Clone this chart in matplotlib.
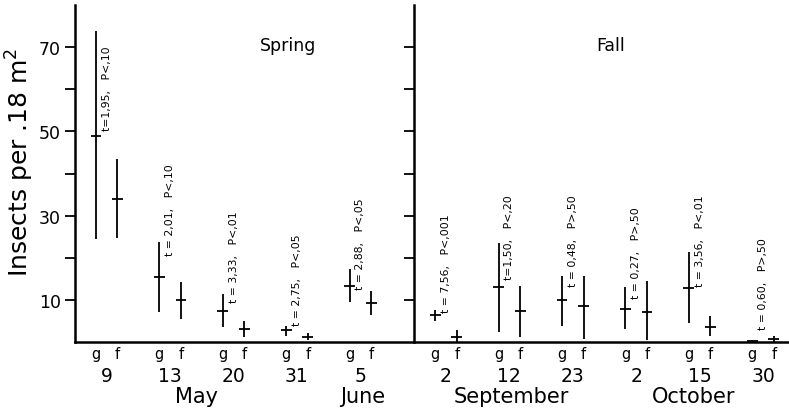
import numpy as np
import matplotlib
matplotlib.use("Agg")
import matplotlib.pyplot as plt
from matplotlib.transforms import blended_transform_factory

# Sampling dates
spring_days = ["9", "13", "20", "31", "5"]
fall_days = ["2", "12", "23", "2", "15", "30"]
months = ["May", "June", "September", "October"]

# Insects per .18 m^2: mean and range, g and f plots
g_mean = [49.0, 15.6, 7.5, 2.8, 13.4, 6.5, 13.0, 10.0, 7.9, 12.9, 0.4]
g_lo = [24.5, 7.2, 3.7, 1.6, 9.6, 5.1, 2.5, 3.9, 3.2, 4.6, 0.15]
g_hi = [73.8, 23.9, 11.5, 3.9, 17.4, 7.7, 23.6, 15.8, 13.0, 21.4, 0.65]
f_mean = [34.0, 10.1, 3.1, 1.3, 9.3, 1.3, 7.5, 8.5, 7.3, 3.7, 0.8]
f_lo = [24.8, 5.5, 1.2, 0.5, 6.5, 0.1, 1.2, 0.9, 0.6, 1.4, 0.0]
f_hi = [43.5, 14.3, 5.1, 2.2, 12.2, 2.8, 13.4, 15.8, 14.6, 6.3, 1.6]

# t-test results for each date
t_vals = ["t=1,95,", "t = 2,01,", "t = 3,33,", "t = 2,75,", "t = 2,88,",
          "t = 7,56,", "t=1,50,", "t = 0,48,", "t = 0,27,", "t = 3,56,", "t = 0,60,"]
p_vals = ["P<,10", "P<,10", "P<,01", "P<,05", "P<,05",
          "P<,001", "P<,20", "P>,50", "P>,50", "P<,01", "P>,50"]

# layout: where each rotated t/P label starts (data units)
label_base = [50.3, 20.7, 9.6, 4.0, 12.6, 7.1, 15.0, 13.4, 10.5, 13.4, 3.2]

W, H = 789, 410
fig = plt.figure(figsize=(W / 100, H / 100), dpi=100)
plt.rcParams["font.family"] = ["DejaVu Sans"]

ax_left, ax_bottom, ax_top = 75, 343.3, 6
ax = fig.add_axes([ax_left / W, 1 - ax_bottom / H, 1 - ax_left / W, (ax_bottom - ax_top) / H])

# group positions (g plot of each date); fall groups shifted right
fall_start = 5.35
xg = np.concatenate([np.arange(len(spring_days)), fall_start + np.arange(len(fall_days))])
xf = xg + 0.34
hw = 0.085

ax.set_xlim(-0.33, 10.93)
ax.set_ylim(0, 80)

for spine in ["top", "right"]:
    ax.spines[spine].set_visible(False)
ax.spines["left"].set_linewidth(1.8)
ax.spines["bottom"].set_linewidth(1.8)

ax.set_xticks([])
ax.set_yticks(np.arange(0, 80, 10))
ax.set_yticklabels(["" if v % 20 == 0 else str(v) for v in range(0, 80, 10)])
ax.tick_params(axis="y", direction="out", length=7, width=1.3, labelsize=12.5, pad=3)

# second (fall) vertical axis
ax2 = fig.add_axes([414 / W, 1 - ax_bottom / H, (W - 414) / W, (ax_bottom - ax_top) / H],
                   sharey=ax)
ax2.patch.set_visible(False)
for spine in ["top", "right", "bottom"]:
    ax2.spines[spine].set_visible(False)
ax2.spines["left"].set_linewidth(1.8)
ax2.set_xticks([])
ax2.tick_params(axis="y", direction="out", length=7, width=1.3, labelleft=False)
ax2.set_yticks(np.arange(10, 80, 10))

# mean +/- range crosses
lw = 1.3
ax.vlines(xg, g_lo, g_hi, color="black", lw=lw)
ax.hlines(g_mean, xg - hw, xg + hw, color="black", lw=lw)
ax.vlines(xf, f_lo, f_hi, color="black", lw=lw)
ax.hlines(f_mean, xf - hw, xf + hw, color="black", lw=lw)

# t / P annotations
for x, t, p, yb in zip((xg + xf) / 2, t_vals, p_vals, label_base):
    ax.text(x, yb, f"{t}   {p}", rotation=90, ha="center", va="bottom",
            fontsize=7.8, color="black")

ax.text(3.03, 69.3, "Spring", ha="center", va="baseline", fontsize=12.5)
ax.text(8.11, 69.3, "Fall", ha="center", va="baseline", fontsize=12.5)

# category labels below the axis
tr = blended_transform_factory(ax.transData, fig.transFigure)
days = spring_days + fall_days
for x1, x2, d in zip(xg, xf, days):
    ax.text(x1, 1 - 359 / H, "g", transform=tr, ha="center", va="baseline", fontsize=10.5)
    ax.text(x2, 1 - 359 / H, "f", transform=tr, ha="center", va="baseline", fontsize=10.5)
    ax.text((x1 + x2) / 2, 1 - 382 / H, d, transform=tr, ha="center", va="baseline",
            fontsize=13.5)

month_x = [1.59, 4.21, 6.55, 9.42]
for mx, m in zip(month_x, months):
    ax.text(mx, 1 - 403 / H, m, transform=tr, ha="center", va="baseline", fontsize=15)

fig.text(20 / W, 1 - 162 / H, "Insects per .18 m$^2$", rotation=90,
         ha="center", va="center", fontsize=18)

fig.savefig("out.png", dpi=100, facecolor="white")
